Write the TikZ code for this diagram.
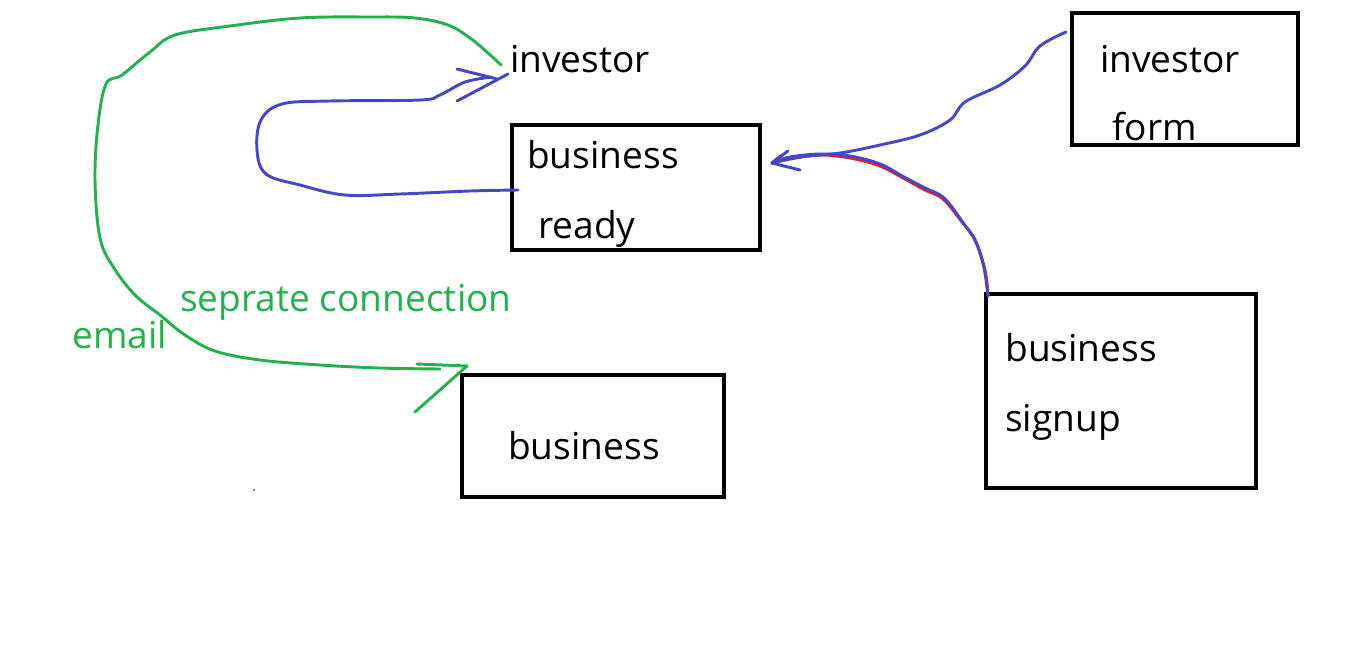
\documentclass[tikz,border=0pt]{standalone}
\usepackage{fontspec}
\setmainfont{Open Sans}
\usepackage{tikz}
\usetikzlibrary{calc}
\usetikzlibrary{arrows.meta}
\definecolor{penblue}{RGB}{68,72,200}
\definecolor{pengreen}{RGB}{34,177,76}
\definecolor{penred}{RGB}{237,28,36}
\tikzset{
  word/.style={anchor=base west, inner sep=0pt, font=\fontsize{27.8}{32}\selectfont},
  boxed/.style={draw=black, line width=3pt},
  bluepen/.style={draw=penblue, line width=2.2pt, line cap=round, line join=round},
  greenpen/.style={draw=pengreen, line width=2.2pt, line cap=round, line join=round},
  redpen/.style={draw=penred, line width=2.2pt, line cap=round, line join=round}
}

\begin{document}
\begin{tikzpicture}[x=0.75pt, y=-0.75pt]

\useasboundingbox (0, 0) rectangle (1366, 664);

% boxes
\draw [boxed] (512, 125) rectangle (760, 250);
\draw [boxed] (1072, 13) rectangle (1298, 145);
\draw [boxed] (986, 294) rectangle (1256, 488);
\draw [boxed] (462, 375) rectangle (724, 497);

% labels
\node [word] (inv) at (510, 72) {investor};
\node [word] (br1) at (527, 168) {business};
\node [word] (br2) at (538, 238) {ready};
\node [word] (if1) at (1100, 72) {investor};
\node [word] (if2) at (1112, 140) {form};
\node [word] (bs1) at (1005, 361) {business};
\node [word] (bs2) at (1005, 431) {signup};
\node [word] (bus) at (508, 459) {business};
\node [word, text=pengreen] (sep) at (180, 311) {seprate connection};
\node [word, text=pengreen] (mail) at (72, 348) {email};

\coordinate (brL) at (518, 190);
\coordinate (invtip) at (508, 74);
\coordinate (ifL) at (1066, 32);
\coordinate (bsT) at (988, 296);
\coordinate (brtip) at (772, 163);
\coordinate (busend) at (440, 369);
\coordinate (bustip) at (467, 366);

% blue loop back to investor
\draw [bluepen] plot [smooth, tension=0.6] coordinates {(brL) (470, 191) (400, 194) (345, 195) (300, 185) (266, 174) (257, 150) (261, 120) (282, 104) (330, 101) (420, 100) (440, 95) (465, 82) (492, 77)};
\draw [bluepen] (457, 69) -- (497, 79);
\draw [bluepen] (457, 101) -- (invtip);

% green line, investor to business
\draw [greenpen] plot [smooth, tension=0.6] coordinates {(501, 65) (488, 53) (470, 38) (448, 25) (415, 18) (370, 17) (300, 18) (230, 26) (175, 35) (150, 52) (122, 75) (106, 84) (98, 125) (95, 180) (100, 238) (114, 268) (135, 295) (160, 315) (185, 335) (215, 351) (260, 360) (320, 365) (380, 368) (busend)};
\draw [greenpen] (417, 364) -- (bustip) -- (415, 412);

% investor form and business signup into business ready
\draw [redpen] plot [smooth, tension=0.6] coordinates {(bsT) (985, 270) (975, 240) (962, 222) (943, 199) (925, 190) (905, 179) (880, 166) (850, 158) (820, 155) (790, 159) (brtip)};
\draw [bluepen] plot [smooth, tension=0.6] coordinates {(bsT) (984, 268) (976, 242) (964, 224) (944, 198) (925, 188) (904, 177) (880, 164) (850, 156) (820, 154) (790, 157) (brtip)};
\draw [bluepen] plot [smooth, tension=0.6] coordinates {(ifL) (1040, 46) (1025, 66) (1000, 85) (965, 102) (950, 120) (920, 135) (880, 145) (840, 153) (800, 157) (brtip)};
\draw [redpen] (brtip) -- (780, 156);
\draw [bluepen] (788, 151) -- (brtip) -- (800, 170);

% stray dot
\fill (254, 490) circle (0.8);

\end{tikzpicture}
\end{document}
